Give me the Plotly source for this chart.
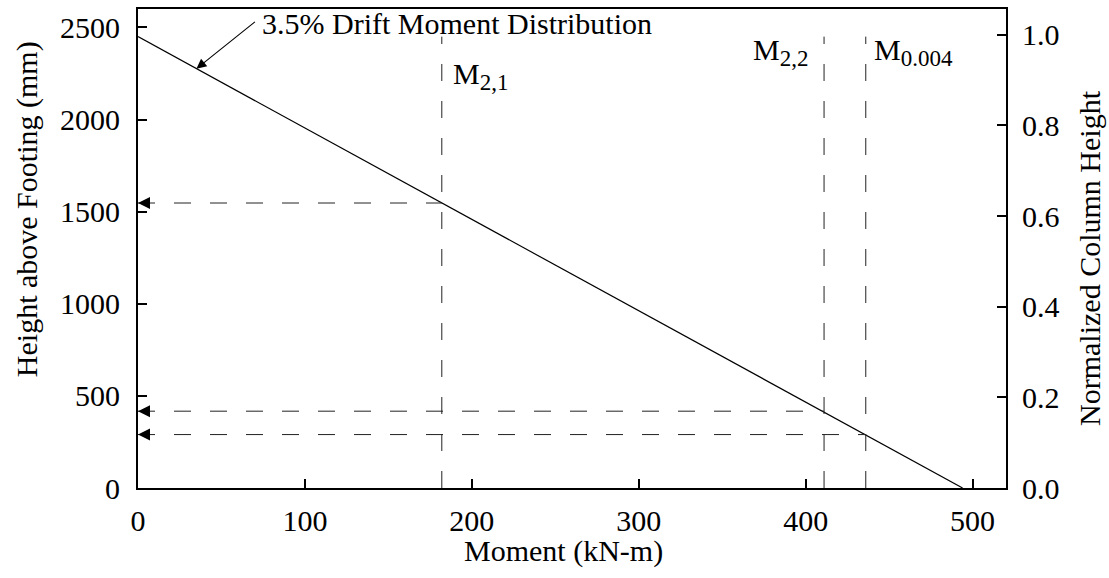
import plotly.graph_objects as go

# Moment distribution along the column at 3.5% drift
moment_line = [0, 494]            # kN-m
height_line = [2450, 0]           # mm above footing
column_height = 2460              # mm, used for the normalized axis

# Characteristic moments and the heights where they are reached
marker_names = ["M", "M", "M"]
marker_subs = ["2,1", "2,2", "0.004"]
marker_moments = [182, 411, 436]  # kN-m
marker_heights = [1547, 417, 290] # mm
marker_top = 2450                 # mm, top of the vertical guide lines

x_ticks = [0, 100, 200, 300, 400, 500]
y_ticks = [0, 500, 1000, 1500, 2000, 2500]
y2_ticks = [0.0, 0.2, 0.4, 0.6, 0.8, 1.0]

x_max = 520
y_max = 2600

FONT = "Liberation Serif, Times New Roman, serif"
FS = 30

W, H = 1109, 578
ML, MR, MT, MB = 138, 103, 7, 90


def px_to_paper_x(px):
    return (px - ML) / (W - ML - MR)


def px_to_paper_y(py):
    return (H - MB - py) / (H - MT - MB)


fig = go.Figure()

# main moment line
fig.add_trace(go.Scatter(x=moment_line, y=height_line, mode="lines",
                         line=dict(color="black", width=1.2),
                         showlegend=False, hoverinfo="skip"))

guide = dict(color="#222222", width=1)
for m, h in zip(marker_moments, marker_heights):
    # vertical guide at the moment value
    fig.add_trace(go.Scatter(x=[m, m], y=[0, marker_top], mode="lines",
                             line=dict(dash="17px,20px", **guide),
                             showlegend=False, hoverinfo="skip"))
    # horizontal guide back to the height axis
    fig.add_trace(go.Scatter(x=[0, m], y=[h, h], mode="lines",
                             line=dict(dash="17px,19px", **guide),
                             showlegend=False, hoverinfo="skip"))
    # arrowhead pointing at the height axis
    fig.add_annotation(x=0, y=h, ax=5, ay=h, xref="x", yref="y",
                       axref="x", ayref="y", text="", showarrow=True,
                       arrowhead=2, arrowsize=2.0, arrowwidth=1.2,
                       arrowcolor="black")

# labels for the characteristic moments
label_pos = [(187.5, 2236), (367, 2366), (439.5, 2366)]
for name, sub, (lx, ly) in zip(marker_names, marker_subs, label_pos):
    fig.add_annotation(
        x=lx, y=ly, xref="x", yref="y",
        text=f"{name}<sub><span style='font-size:23px'>{sub}</span></sub>",
        showarrow=False, xanchor="left", yanchor="middle",
        font=dict(family=FONT, size=FS, color="black"))

# callout for the distribution line
fig.add_annotation(x=35, y=2276, ax=60, ay=-48, xref="x", yref="y",
                   text="", showarrow=True, arrowhead=2, arrowsize=1.8,
                   arrowwidth=1.1, arrowcolor="black")
fig.add_annotation(x=73, y=2520, xref="x", yref="y",
                   text="3.5% Drift Moment Distribution", showarrow=False,
                   xanchor="left", yanchor="middle",
                   font=dict(family=FONT, size=FS, color="black"))

# axis titles
fig.add_annotation(x=px_to_paper_x(563), y=px_to_paper_y(551),
                   xref="paper", yref="paper",
                   text="Moment (kN-m)", showarrow=False,
                   xanchor="center", yanchor="middle",
                   font=dict(family=FONT, size=FS, color="black"))
fig.add_annotation(x=px_to_paper_x(27), y=px_to_paper_y(208),
                   xref="paper", yref="paper",
                   text="Height above Footing (mm)", textangle=-90,
                   showarrow=False, xanchor="center", yanchor="middle",
                   font=dict(family=FONT, size=FS, color="black"))
fig.add_annotation(x=px_to_paper_x(1090), y=px_to_paper_y(257),
                   xref="paper", yref="paper",
                   text="Normalized Column Height", textangle=-90,
                   showarrow=False, xanchor="center", yanchor="middle",
                   font=dict(family=FONT, size=FS, color="black"))

# invisible trace to activate the normalized axis
fig.add_trace(go.Scatter(x=[0], y=[0], yaxis="y2", mode="markers",
                         marker=dict(opacity=0), showlegend=False,
                         hoverinfo="skip"))

axis_common = dict(showline=True, linecolor="black", linewidth=2,
                   ticks="inside", ticklen=9, tickwidth=2, tickcolor="black",
                   showgrid=False, zeroline=False,
                   tickfont=dict(family=FONT, size=FS, color="black"))

fig.update_layout(
    width=W, height=H,
    margin=dict(l=ML, r=MR, t=MT, b=MB),
    plot_bgcolor="white", paper_bgcolor="white",
    font=dict(family=FONT, size=FS, color="black"),
    xaxis=dict(range=[0, x_max], tickvals=x_ticks, mirror=True,
               ticklabelstandoff=5, **axis_common),
    yaxis=dict(range=[0, y_max], tickvals=y_ticks,
               ticklabelstandoff=10, **axis_common),
    yaxis2=dict(range=[0, y_max / column_height], tickvals=y2_ticks,
                tickformat=".1f", overlaying="y", side="right",
                ticklabelstandoff=8, **axis_common),
)

fig.write_html("out.html")
